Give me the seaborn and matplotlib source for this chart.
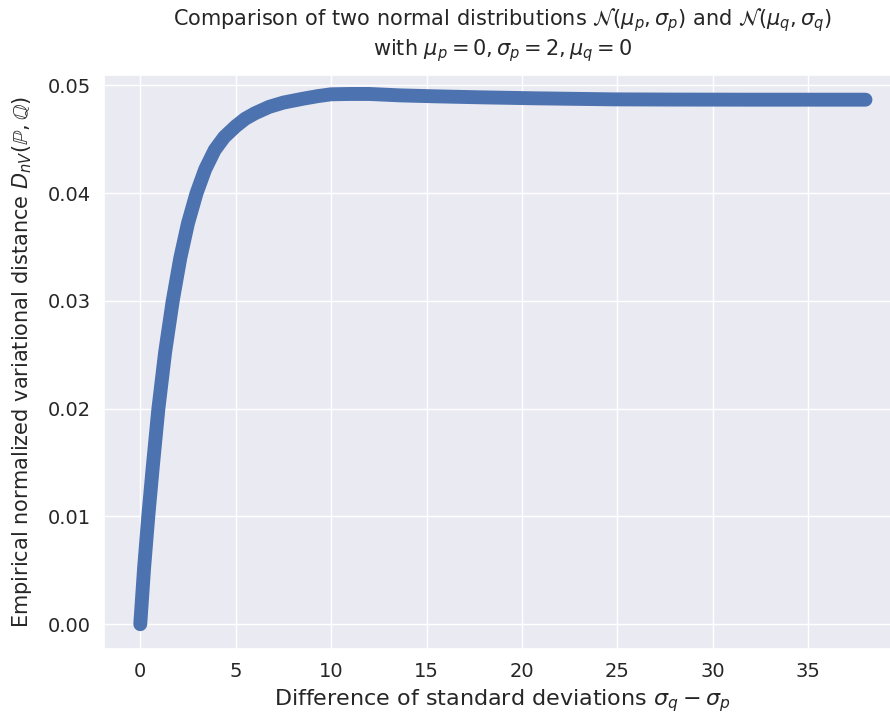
import matplotlib
matplotlib.use("Agg")
import matplotlib.pyplot as plt
import numpy as np
import pandas as pd
import seaborn as sns

# Difference of standard deviations (sigma_q - sigma_p)
sigma_diff = [0.0, 0.2, 0.42, 0.65, 0.95, 1.3, 1.7, 2.1, 2.5, 2.95, 3.4, 3.9,
              4.4, 5.0, 5.5, 6.0, 6.75, 7.5, 8.5, 9.3, 10.0, 11.0, 12.0, 13.6,
              15.5, 17.8, 20.6, 24.8, 28.0, 32.0, 36.0, 38.0]
# Empirical normalized variational distance
nvd = [0.0, 0.0052, 0.0100, 0.0145, 0.0200, 0.0252, 0.0300, 0.0340, 0.0372, 0.0400,
       0.0422, 0.0440, 0.0452, 0.0462, 0.0469, 0.0474, 0.0480, 0.0484, 0.04875, 0.0490,
       0.04917, 0.0492, 0.0492, 0.04907, 0.04898, 0.04889, 0.04880, 0.04870, 0.04868,
       0.04867, 0.04867, 0.04867]

sns.set_theme(style="darkgrid")
plt.rcParams["font.family"] = ["DejaVu Sans"]

fig = plt.figure(figsize=(8.9, 7.2), dpi=100)
ax = fig.add_axes([104 / 890, 71 / 720, 797 / 890, 574 / 720])

df = pd.DataFrame({"diff": sigma_diff, "nvd": nvd})
sns.lineplot(data=df, x="diff", y="nvd", ax=ax, color="#4c72b0", linewidth=10,
             solid_capstyle="round", solid_joinstyle="round", sort=False)

ax.set_xlim(-1.9, 39.86)
ax.set_ylim(-0.0023, 0.05096)
ax.set_xticks([0, 5, 10, 15, 20, 25, 30, 35])
ax.set_yticks([0.0, 0.01, 0.02, 0.03, 0.04, 0.05])
ax.tick_params(labelsize=14)
ax.set_xlabel(r"Difference of standard deviations $\sigma_q - \sigma_p$", fontsize=16)
ax.set_ylabel(r"Empirical normalized variational distance $D_{nV}(\mathbb{P}, \mathbb{Q})$",
              fontsize=15, labelpad=10)
ax.set_title("Comparison of two normal distributions $\\mathcal{N}(\\mu_p, \\sigma_p)$ and "
             "$\\mathcal{N}(\\mu_q, \\sigma_q)$\nwith $\\mu_p = 0, \\sigma_p = 2, \\mu_q = 0$",
             fontsize=15, pad=14)

fig.savefig("out.png", dpi=100)
